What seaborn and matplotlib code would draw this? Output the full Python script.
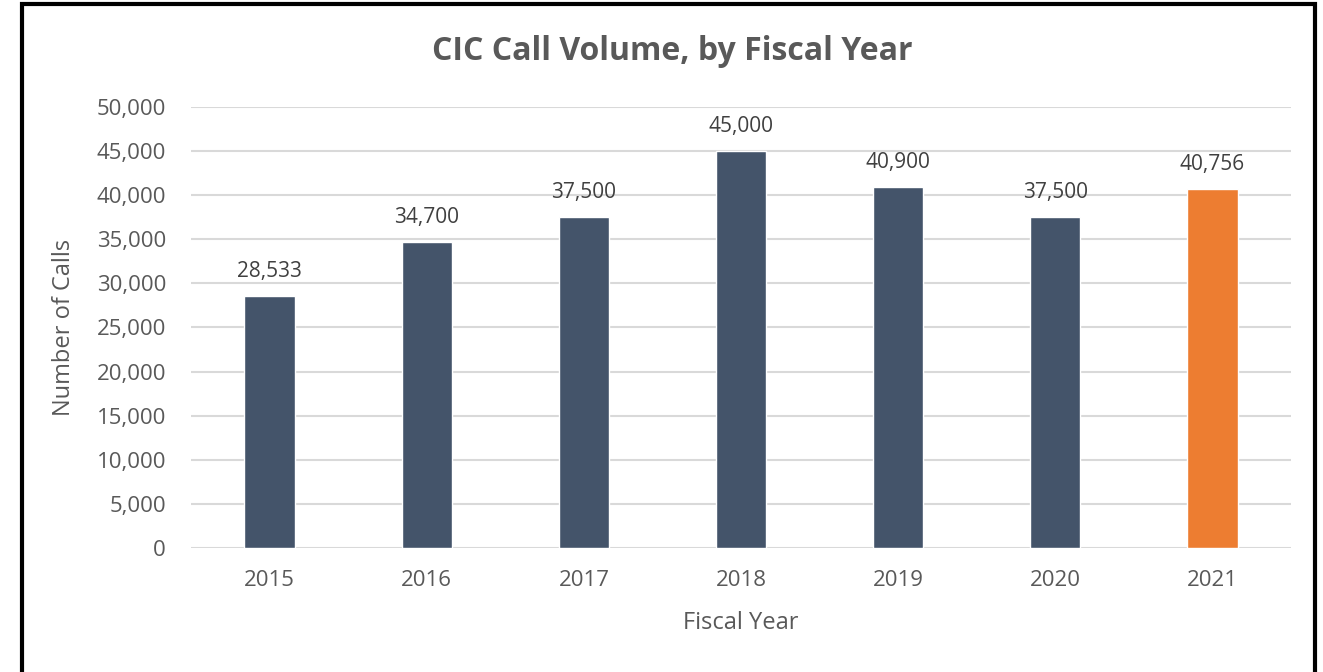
import matplotlib
matplotlib.use("Agg")
import matplotlib.pyplot as plt
import seaborn as sns
import pandas as pd
from matplotlib.patches import Rectangle
from matplotlib.ticker import FuncFormatter, MultipleLocator

years = ["2015", "2016", "2017", "2018", "2019", "2020", "2021"]
calls = [28533, 34700, 37500, 45000, 40900, 37500, 40756]
bar_colors = ["#44546A"] * 6 + ["#ED7D31"]

sns.set_theme(style="white")
plt.rcParams['font.family'] = ['Open Sans', 'DejaVu Sans']

df = pd.DataFrame({"year": years, "calls": calls})

fig = plt.figure(figsize=(13.23, 6.72), dpi=100)
ax = fig.add_axes([0.1444, 0.1845, 0.9758 - 0.1444, 0.8408 - 0.1845])

sns.barplot(data=df, x="year", y="calls", hue="year", palette=bar_colors,
            legend=False, width=0.32, ax=ax, saturation=1)

ax.set_ylim(0, 50000)
ax.set_xlim(-0.5, 6.5)
ax.yaxis.set_major_locator(MultipleLocator(5000))
ax.yaxis.set_major_formatter(FuncFormatter(lambda v, p: f"{int(v):,}"))
ax.grid(axis="y", color="#D9D9D9", linewidth=1.5)
ax.set_axisbelow(True)
for s in ax.spines.values():
    s.set_visible(False)

ax.tick_params(axis="both", length=0, labelsize=16, colors="#595959")
ax.tick_params(axis="y", pad=18)
ax.tick_params(axis="x", pad=16)

ax.set_xlabel("Fiscal Year", fontsize=17, color="#595959", labelpad=14)
ax.set_ylabel("Number of Calls", fontsize=17, color="#595959", labelpad=15)

for i, v in enumerate(calls):
    ax.annotate(f"{v:,}", (i, v), xytext=(0, 10), textcoords="offset points",
                ha="center", va="bottom", fontsize=15, color="#404040")

fig.text(672 / 1323, 1 - 52 / 672, "CIC Call Volume, by Fiscal Year",
         ha="center", va="center", fontsize=23, fontweight="bold", color="#595959")

rect = Rectangle((22 / 1323, -0.05), (1315 - 22) / 1323, (1 - 4 / 672) + 0.05,
                 transform=fig.transFigure, fill=False, edgecolor="black",
                 linewidth=3, clip_on=False)
fig.patches.append(rect)

fig.savefig("out.png", dpi=100)
